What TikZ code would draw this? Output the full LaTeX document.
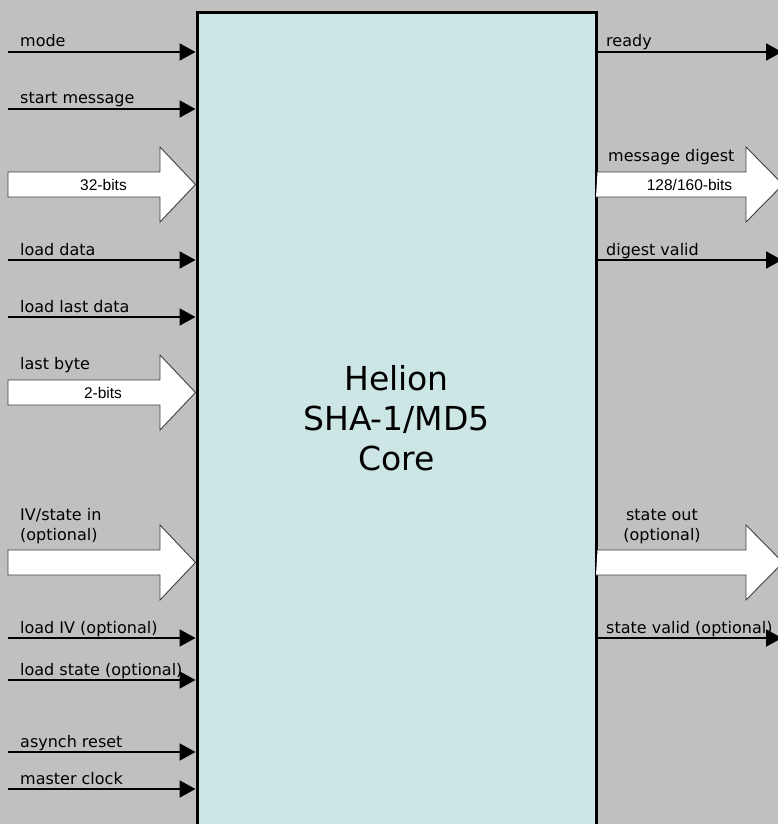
\documentclass[tikz,border=0pt]{standalone}
\usepackage{fontspec}
\setmainfont{DejaVu Sans}
\newfontfamily\busfont{Liberation Sans}
\usetikzlibrary{arrows.meta}
\definecolor{fond}{HTML}{C0C0C0}
\definecolor{coeur}{HTML}{CCE5E5}

\begin{document}
\begin{tikzpicture}[x=1pt,y=-1pt,
  sig/.style={line width=2pt,-{Triangle[length=16pt,width=17pt]}},
  lbl/.style={anchor=base west,inner sep=0pt,font=\fontsize{16}{20}\selectfont},
  bus/.style={draw=black!75,line width=0.9pt,fill=white},
  buslbl/.style={inner sep=0pt,font=\busfont\fontsize{15.5}{18}\selectfont}]
\fill[fond] (0,0) rectangle (778,824);
\useasboundingbox (0,0) rectangle (778,824); % Pour la bounding box

\node[draw,line width=3pt,fill=coeur,minimum width=399pt,minimum height=830pt] (core) at (396.5,428) {};
\node[align=center,font=\fontsize{33}{40}\selectfont] (nom) at (396.5,418.5) {Helion\\SHA-1/MD5\\Core};

% entrees simples
\foreach \y/\txt in {52/mode,109/start message,260/load data,317/load last data,
  638/load IV (optional),680/load state (optional),752/asynch reset,789/master clock}{
  \coordinate (e\y) at (8,\y);
  \draw[sig] (e\y) -- (e\y -| core.west);
  \node[lbl] (te\y) at (20,\y-5) {\txt};
}

% sorties simples
\foreach \y/\txt in {52/ready,260/digest valid,638/state valid (optional)}{
  \coordinate (s\y) at (782,\y);
  \draw[sig] (s\y -| core.east) -- (s\y);
  \node[lbl] (ts\y) at (606,\y-5) {\txt};
}

% bus d'entree
\foreach \y [count=\i] in {184.5,392.5,562.5}{
  \coordinate (be\i) at (8,\y);
  \draw[bus] (8,\y-12.5) -- (160,\y-12.5) -- (160,\y-37.5) -- (be\i -| core.west)
    -- (160,\y+37.5) -- (160,\y+12.5) -- (8,\y+12.5) -- cycle;
}
% bus de sortie
\foreach \y [count=\i] in {184.5,562.5}{
  \coordinate (bs\i) at (783,\y);
  \draw[bus] (core.east |- bs\i) ++(0,-12.5) -- (746,\y-12.5) -- (746,\y-37.5) -- (bs\i)
    -- (746,\y+37.5) -- (746,\y+12.5) -- ++(-150,0);
}

\node[buslbl] (l32) at (103.5,184.5) {32-bits};
\node[buslbl] (l2) at (103,392.5) {2-bits};
\node[buslbl] (l128) at (689.5,184.5) {128/160-bits};

\node[lbl] (tbyte) at (20,369) {last byte};
\node[lbl] (tiv) at (20,520) {IV/state in};
\node[lbl] (tivo) at (20,540) {(optional)};
\node[lbl] (tdig) at (608,161) {message digest};
\node[lbl,anchor=base] (tout) at (662,520) {state out};
\node[lbl,anchor=base] (touto) at (662,540) {(optional)};
\end{tikzpicture}
\end{document}
